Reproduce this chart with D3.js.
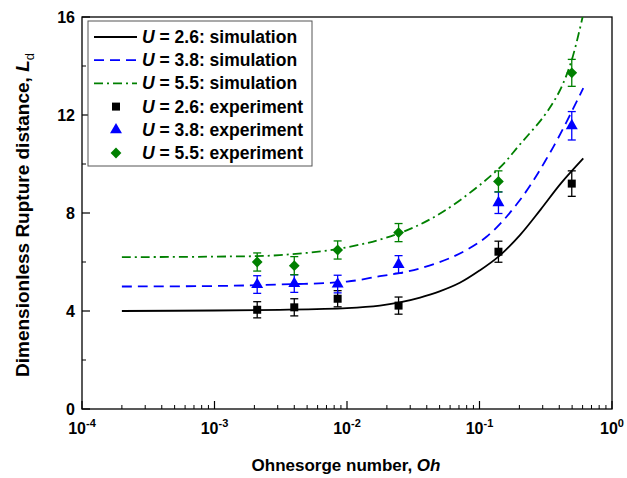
<!DOCTYPE html>
<html>
<head>
<meta charset="utf-8">
<script src="https://cdn.jsdelivr.net/npm/d3@7"></script>
<style>
  body { margin: 0; background: #fff; }
  text { font-family: "Liberation Sans", Arial, sans-serif; font-weight: bold; }
</style>
</head>
<body>
<svg id="chart" width="627" height="478"></svg>
<script>
// experiment points (Oh values shared by all three series)
let exp_oh = [0.0021, 0.004, 0.0085, 0.0245, 0.139, 0.497];
let exp_u26 = [4.05, 4.15, 4.5, 4.22, 6.42, 9.2];
let exp_u38 = [5.08, 5.12, 5.1, 5.9, 8.42, 11.56];
let exp_u55 = [6.0, 5.85, 6.49, 7.2, 9.29, 13.72];
let err_u26 = [0.33, 0.35, 0.33, 0.35, 0.43, 0.52];
let err_u38 = [0.36, 0.36, 0.36, 0.36, 0.44, 0.58];
let err_u55 = [0.37, 0.37, 0.37, 0.37, 0.43, 0.55];

// simulation curves
let sim_u26_oh = [0.0002, 0.001, 0.0031, 0.01, 0.0177, 0.025, 0.0356, 0.05, 0.071, 0.1, 0.139, 0.202, 0.29, 0.41, 0.607];
let sim_u26 = [4.0, 4.02, 4.05, 4.12, 4.22, 4.35, 4.55, 4.8, 5.15, 5.65, 6.22, 7.1, 8.15, 9.2, 10.23];
let sim_u38_oh = [0.0002, 0.001, 0.0031, 0.01, 0.0177, 0.025, 0.0356, 0.0634, 0.113, 0.202, 0.361, 0.607];
let sim_u38 = [5.0, 5.02, 5.08, 5.2, 5.42, 5.55, 5.74, 6.22, 7.03, 8.53, 10.7, 13.1];
let sim_u55_oh = [0.0002, 0.001, 0.0031, 0.01, 0.025, 0.053, 0.139, 0.202, 0.311, 0.404, 0.494, 0.6];
let sim_u55 = [6.2, 6.22, 6.28, 6.6, 7.18, 8.05, 9.8, 10.8, 12.0, 13.0, 14.2, 16.0];

let x_ticks = [1e-4, 1e-3, 1e-2, 1e-1, 1];
let x_tick_exp = ["-4", "-3", "-2", "-1", "0"];
let y_ticks = [0, 4, 8, 12, 16];

let legend_labels = ["2.6: simulation", "3.8: simulation", "5.5: simulation",
  "2.6: experiment", "3.8: experiment", "5.5: experiment"];

let BLACK = "#000000";
let BLUE = "#0000ff";
let GREEN = "#008000";

let plot_left = 82, plot_right = 612, plot_top = 17, plot_bottom = 409;

let svg = d3.select("#chart");

let x = d3.scaleLog().domain([1e-4, 1]).range([plot_left, plot_right]);
let y = d3.scaleLinear().domain([0, 16]).range([plot_bottom, plot_top]);

svg.append("defs").append("clipPath").attr("id", "plot_clip")
  .append("rect")
  .attr("x", plot_left).attr("y", plot_top)
  .attr("width", plot_right - plot_left).attr("height", plot_bottom - plot_top);

// frame
svg.append("rect")
  .attr("x", plot_left).attr("y", plot_top)
  .attr("width", plot_right - plot_left).attr("height", plot_bottom - plot_top)
  .attr("fill", "none").attr("stroke", "black").attr("stroke-width", 1.3);

// x ticks, inside
let x_minor = [];
for (let e = -4; e < 0; e++) {
  for (let m = 2; m <= 9; m++) x_minor.push(m * Math.pow(10, e));
}
svg.append("g").selectAll("line").data(x_minor).enter().append("line")
  .attr("x1", d => x(d)).attr("x2", d => x(d))
  .attr("y1", plot_bottom).attr("y2", plot_bottom - 4)
  .attr("stroke", "black").attr("stroke-width", 1);
svg.append("g").selectAll("line").data(x_ticks).enter().append("line")
  .attr("x1", d => x(d)).attr("x2", d => x(d))
  .attr("y1", plot_bottom).attr("y2", plot_bottom - 8)
  .attr("stroke", "black").attr("stroke-width", 1.2);

let xlab = svg.append("g").selectAll("text").data(x_ticks).enter().append("text")
  .attr("x", d => x(d))
  .attr("y", 434)
  .attr("text-anchor", "middle")
  .style("font-size", "16px");
xlab.append("tspan").text("10");
xlab.append("tspan").text((d, i) => x_tick_exp[i])
  .attr("dy", -7).style("font-size", "11px");

// y ticks, inside
let y_minor = [2, 6, 10, 14];
svg.append("g").selectAll("line").data(y_minor).enter().append("line")
  .attr("x1", plot_left).attr("x2", plot_left + 4)
  .attr("y1", d => y(d)).attr("y2", d => y(d))
  .attr("stroke", "black").attr("stroke-width", 1);
svg.append("g").selectAll("line").data(y_ticks).enter().append("line")
  .attr("x1", plot_left).attr("x2", plot_left + 8)
  .attr("y1", d => y(d)).attr("y2", d => y(d))
  .attr("stroke", "black").attr("stroke-width", 1.2);
svg.append("g").selectAll("text").data(y_ticks).enter().append("text")
  .text(d => d)
  .attr("x", plot_left - 7)
  .attr("y", d => y(d) + 6)
  .attr("text-anchor", "end")
  .style("font-size", "16px");

// axis titles
let xt = svg.append("text")
  .attr("x", 346).attr("y", 471)
  .attr("text-anchor", "middle")
  .style("font-size", "17px");
xt.append("tspan").text("Ohnesorge number, ");
xt.append("tspan").text("Oh").style("font-style", "italic");

let yt = svg.append("text")
  .attr("transform", "translate(29,215) rotate(-90)")
  .attr("text-anchor", "middle")
  .style("font-size", "19px");
yt.append("tspan").text("Dimensionless Rupture distance, ");
yt.append("tspan").text("L").style("font-style", "italic");
yt.append("tspan").text("d").attr("dy", 5).style("font-size", "13px").style("font-weight", "normal");

// simulation curves
let line = d3.line()
  .x(d => x(d[0]))
  .y(d => y(d[1]))
  .curve(d3.curveCatmullRom.alpha(0.5));

let sims = [
  { oh: sim_u26_oh, v: sim_u26, color: BLACK, dash: null },
  { oh: sim_u38_oh, v: sim_u38, color: BLUE, dash: "10,6" },
  { oh: sim_u55_oh, v: sim_u55, color: GREEN, dash: "9,4,2,4" }
];

let plot = svg.append("g").attr("clip-path", "url(#plot_clip)");
sims.forEach(function(s) {
  plot.append("path")
    .datum(s.oh.map((o, i) => [o, s.v[i]]))
    .attr("d", line)
    .attr("fill", "none")
    .attr("stroke", s.color)
    .attr("stroke-width", 1.8)
    .attr("stroke-dasharray", s.dash);
});

// experiments with error bars; diamond = square turned 45 degrees
let exps = [
  { v: exp_u26, err: err_u26, color: BLACK, shape: d3.symbolSquare, size: 64, rot: 0 },
  { v: exp_u38, err: err_u38, color: BLUE, shape: d3.symbolTriangle, size: 62, rot: 0 },
  { v: exp_u55, err: err_u55, color: GREEN, shape: d3.symbolSquare, size: 58, rot: 45 }
];

exps.forEach(function(s) {
  let g = svg.append("g");
  let pts = exp_oh.map((o, i) => ({ oh: o, v: s.v[i], e: s.err[i] }));
  g.selectAll("line.bar").data(pts).enter().append("line")
    .attr("x1", d => x(d.oh)).attr("x2", d => x(d.oh))
    .attr("y1", d => y(d.v + d.e)).attr("y2", d => y(d.v - d.e))
    .attr("stroke", s.color).attr("stroke-width", 1.3);
  [1, -1].forEach(function(sign) {
    g.selectAll("line.cap" + sign).data(pts).enter().append("line")
      .attr("x1", d => x(d.oh) - 4).attr("x2", d => x(d.oh) + 4)
      .attr("y1", d => y(d.v + sign * d.e)).attr("y2", d => y(d.v + sign * d.e))
      .attr("stroke", s.color).attr("stroke-width", 1.3);
  });
  g.selectAll("path").data(pts).enter().append("path")
    .attr("d", d3.symbol().type(s.shape).size(s.size))
    .attr("transform", d => "translate(" + x(d.oh) + "," + y(d.v) + ") rotate(" + s.rot + ")")
    .attr("fill", s.color);
});

// legend
let legend = svg.append("g");
legend.append("rect")
  .attr("x", 88).attr("y", 21)
  .attr("width", 224).attr("height", 145)
  .attr("fill", "white").attr("stroke", "#555").attr("stroke-width", 1);

let row_y = d3.scaleLinear().domain([0, 5]).range([37, 153]);
legend_labels.forEach(function(lbl, i) {
  let yy = row_y(i);
  if (i < 3) {
    legend.append("line")
      .attr("x1", 94).attr("x2", 137)
      .attr("y1", yy).attr("y2", yy)
      .attr("stroke", sims[i].color).attr("stroke-width", 1.8)
      .attr("stroke-dasharray", sims[i].dash);
  } else {
    let s = exps[i - 3];
    legend.append("path")
      .attr("d", d3.symbol().type(s.shape).size(s.size))
      .attr("transform", "translate(116," + yy + ") rotate(" + s.rot + ")")
      .attr("fill", s.color);
  }
  let t = legend.append("text")
    .attr("x", 142).attr("y", yy + 6)
    .style("font-size", "17.5px");
  t.append("tspan").text("U").style("font-style", "italic");
  t.append("tspan").text(" = " + lbl);
});
</script>
</body>
</html>
